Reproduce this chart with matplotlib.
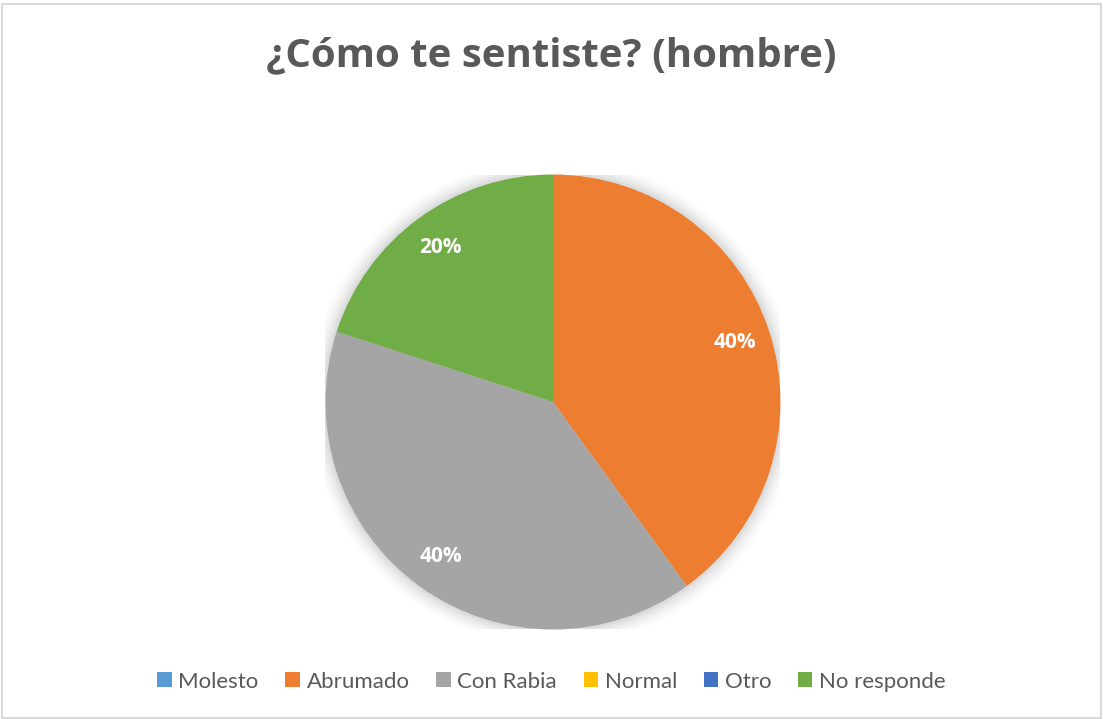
import matplotlib
matplotlib.use('Agg')
import matplotlib.pyplot as plt
from matplotlib.patches import Rectangle, Circle

categorias = ['Molesto', 'Abrumado', 'Con Rabia', 'Normal', 'Otro', 'No responde']
valores = [0, 2, 2, 0, 0, 1]
colores = ['#5B9BD5', '#ED7D31', '#A5A5A5', '#FFC000', '#4472C4', '#70AD47']
titulo = '¿Cómo te sentiste? (hombre)'

plt.rcParams['font.family'] = ['Lato', 'DejaVu Sans']
plt.rcParams['hatch.linewidth'] = 2.0
plt.rcParams['hatch.color'] = '#e9e9e9'

fig = plt.figure(figsize=(11.03, 7.19), dpi=100)

# fondo rayado y borde
fondo = Rectangle((0, 0), 1, 1, transform=fig.transFigure, facecolor='white',
                  edgecolor='none', hatch='//////////////', zorder=-10)
fig.patches.append(fondo)
borde = Rectangle((0.002, 0.002), 0.996, 0.993, transform=fig.transFigure,
                  facecolor='none', edgecolor='#d9d9d9', linewidth=1.5, zorder=-9)
fig.patches.append(borde)

fig.text(0.5, 0.922, titulo, ha='center', va='center', fontsize=29,
         fontweight='bold', color='#595959', family=['Open Sans', 'DejaVu Sans'])

ax = fig.add_axes([0.2951, 0.1245, 0.4125, 0.6328])

# sombra suave
for i, a in enumerate([0.035, 0.03, 0.025, 0.02, 0.015, 0.01]):
    ax.add_patch(Circle((0, 0), 1.0 + 0.012 * (i + 1), color='black', alpha=a,
                        linewidth=0, zorder=0))

def etiqueta(p):
    return f'{p:.0f}%' if p > 0 else ''

wedges, textos, autotextos = ax.pie(
    valores, colors=colores, startangle=90, counterclock=False,
    autopct=etiqueta, pctdistance=0.84, radius=1,
    wedgeprops={'linewidth': 0})
for t in autotextos:
    t.set_color('white')
    t.set_fontweight('bold')
    t.set_fontsize(15)
    t.set_family(['Open Sans', 'DejaVu Sans'])
ax.set_xlim(-1, 1)
ax.set_ylim(-1, 1)
ax.set_aspect('equal')

leg = fig.legend(wedges, categorias, loc='center', bbox_to_anchor=(0.5, 0.052),
                 ncol=6, frameon=True, fontsize=16, handlelength=0.65,
                 handleheight=0.65, handletextpad=0.3, columnspacing=1.2,
                 borderpad=0.4, fancybox=False)
leg.get_frame().set_facecolor('white')
leg.get_frame().set_edgecolor('white')
for t in leg.get_texts():
    t.set_color('#595959')

plt.savefig('out.png', dpi=100)
